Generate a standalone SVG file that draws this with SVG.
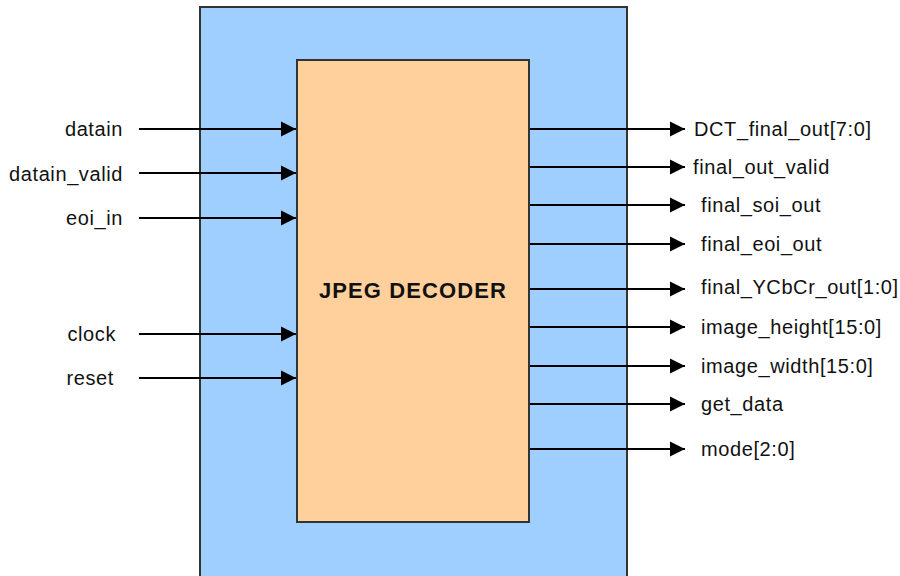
<svg xmlns="http://www.w3.org/2000/svg" width="900" height="576" viewBox="0 0 900 576">
<defs>
<marker id="arr" markerUnits="userSpaceOnUse" markerWidth="15" markerHeight="16" refX="15" refY="8" orient="auto">
<path d="M0,0.5 L15,8 L0,15.5 z" fill="#000"/>
</marker>
</defs>
<style>
.lbl{font-family:"Liberation Sans",Arial,sans-serif;font-size:20px;letter-spacing:0.6px;fill:#111}
.l{text-anchor:end}
.w{stroke:#000;stroke-width:2;fill:none;marker-end:url(#arr)}
.title{font-family:"Liberation Sans",Arial,sans-serif;font-size:22px;font-weight:bold;letter-spacing:1.1px;fill:#111;text-anchor:middle}
</style>
<rect width="900" height="576" fill="#fff"/>
<g id="outer">
<rect x="200" y="7" width="427" height="580" fill="#9fcfff" stroke="#333" stroke-width="2"/>
</g>
<g id="decoder">
<rect x="297" y="60" width="232" height="462" fill="#ffd09c" stroke="#333" stroke-width="2"/>
<text class="title" x="413" y="298">JPEG DECODER</text>
</g>
<g id="connectors">
<line class="w" x1="139" y1="129" x2="296" y2="129"/>
<line class="w" x1="139" y1="173" x2="296" y2="173"/>
<line class="w" x1="139" y1="218" x2="296" y2="218"/>
<line class="w" x1="139" y1="334" x2="296" y2="334"/>
<line class="w" x1="139" y1="378" x2="296" y2="378"/>
<line class="w" x1="530" y1="129" x2="685" y2="129"/>
<line class="w" x1="530" y1="167" x2="685" y2="167"/>
<line class="w" x1="530" y1="205" x2="685" y2="205"/>
<line class="w" x1="530" y1="244" x2="685" y2="244"/>
<line class="w" x1="530" y1="289" x2="685" y2="289"/>
<line class="w" x1="530" y1="327" x2="685" y2="327"/>
<line class="w" x1="530" y1="366" x2="685" y2="366"/>
<line class="w" x1="530" y1="404" x2="685" y2="404"/>
<line class="w" x1="530" y1="449" x2="685" y2="449"/>
</g>
<g id="inputs">
<text class="lbl l" x="123" y="136">datain</text>
<text class="lbl l" x="123" y="181">datain_valid</text>
<text class="lbl l" x="123" y="225">eoi_in</text>
<text class="lbl l" x="116" y="341">clock</text>
<text class="lbl l" x="114" y="385">reset</text>
</g>
<g id="outputs">
<text class="lbl" x="694" y="136">DCT_final_out[7:0]</text>
<text class="lbl" x="693" y="174">final_out_valid</text>
<text class="lbl" x="701" y="212">final_soi_out</text>
<text class="lbl" x="701" y="251">final_eoi_out</text>
<text class="lbl" x="701" y="294">final_YCbCr_out[1:0]</text>
<text class="lbl" x="701" y="334">image_height[15:0]</text>
<text class="lbl" x="701" y="373">image_width[15:0]</text>
<text class="lbl" x="701" y="411">get_data</text>
<text class="lbl" x="701" y="456">mode[2:0]</text>
</g>
</svg>
